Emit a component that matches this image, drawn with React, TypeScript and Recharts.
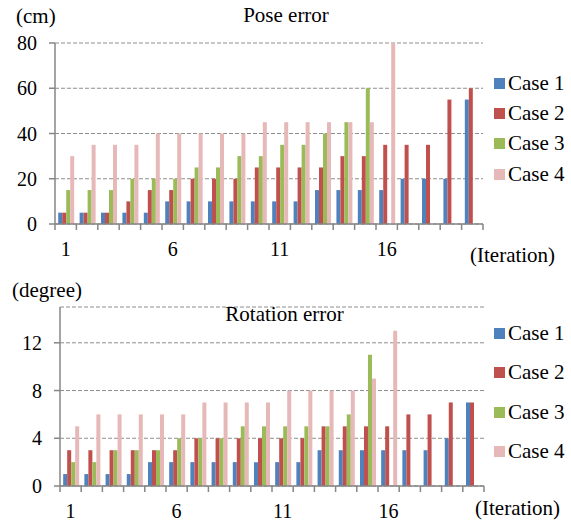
import { Bar, BarChart, CartesianGrid, Legend, XAxis, YAxis } from 'recharts';

const iterations = Array.from({ length: 20 }, (_, i) => String(i + 1));
const labelledIterations = ['1', '6', '11', '16'];

const poseCase1 = [5, 5, 5, 5, 5, 10, 10, 10, 10, 10, 10, 10, 15, 15, 15, 15, 20, 20, 20, 55];
const poseCase2 = [5, 5, 5, 10, 15, 15, 20, 20, 20, 25, 25, 25, 25, 30, 30, 35, 35, 35, 55, 60];
const poseCase3 = [15, 15, 15, 20, 20, 20, 25, 25, 30, 30, 35, 35, 40, 45, 60, null, null, null, null, null];
const poseCase4 = [30, 35, 35, 35, 40, 40, 40, 40, 40, 45, 45, 45, 45, 45, 45, 80, null, null, null, null];
const poseTicks = [0, 20, 40, 60, 80];

const rotCase1 = [1, 1, 1, 1, 2, 2, 2, 2, 2, 2, 2, 2, 3, 3, 3, 3, 3, 3, 4, 7];
const rotCase2 = [3, 3, 3, 3, 3, 3, 4, 4, 4, 4, 4, 4, 5, 5, 5, 5, 6, 6, 7, 7];
const rotCase3 = [2, 2, 3, 3, 3, 4, 4, 4, 5, 5, 5, 5, 5, 6, 11, null, null, null, null, null];
const rotCase4 = [5, 6, 6, 6, 6, 6, 7, 7, 7, 7, 8, 8, 8, 8, 9, 13, null, null, null, null];
const rotTicks = [0, 4, 8, 12];

const cases = ['Case 1', 'Case 2', 'Case 3', 'Case 4'];
const colors = ['#4F81BD', '#C0504D', '#9BBB59', '#E6B9B8'];

const FONT = '"Liberation Serif", serif';
const AXIS = '#868686';
const W = 571;

const buildRows = (series: (number | null)[][]) =>
  iterations.map((it, i) => {
    const row: Record<string, string | number | null> = { it };
    cases.forEach((c, k) => {
      row[c] = series[k][i];
    });
    return row;
  });

const poseData = buildRows([poseCase1, poseCase2, poseCase3, poseCase4]);
const rotData = buildRows([rotCase1, rotCase2, rotCase3, rotCase4]);

// Excel-style category axis: tick marks between the groups, a label every 5th
function makeTick(bandWidth: number, count: number) {
  return (props: any) => {
    const { x, y, payload, index } = props;
    const half = bandWidth / 2;
    return (
      <g>
        <line x1={x - half} x2={x - half} y1={y} y2={y + 6} stroke={AXIS} strokeWidth={1.5} />
        {index === count - 1 && (
          <line x1={x + half} x2={x + half} y1={y} y2={y + 6} stroke={AXIS} strokeWidth={1.5} />
        )}
        {labelledIterations.includes(payload.value) && (
          <text
            x={x}
            y={y + 25}
            textAnchor="middle"
            dominantBaseline="central"
            style={{ fontFamily: FONT, fontSize: 20 }}
            fill="#000"
          >
            {payload.value}
          </text>
        )}
      </g>
    );
  };
}

function makeLegend(rowHeight: number) {
  return () => (
    <div style={{ fontFamily: FONT, fontSize: 21 }}>
      {cases.map((c, i) => (
        <div key={c} style={{ height: rowHeight, display: 'flex', alignItems: 'center' }}>
          <span
            style={{ width: 11, height: 11, background: colors[i], marginRight: 3, display: 'inline-block' }}
          />
          <span style={{ lineHeight: 1 }}>{c}</span>
        </div>
      ))}
    </div>
  );
}

const textStyle = (left: number, top: number, center = false): React.CSSProperties => ({
  position: 'absolute',
  left,
  top,
  transform: center ? 'translate(-50%, -50%)' : 'translateY(-50%)',
  fontFamily: FONT,
  fontSize: 21,
  lineHeight: 1,
  whiteSpace: 'nowrap',
  color: '#000',
});

interface PanelProps {
  data: Record<string, string | number | null>[];
  height: number;
  top: number;
  left: number;
  right: number;
  xAxisHeight: number;
  domain: [number, number];
  ticks: number[];
  legendTop: number;
  legendRow: number;
}

function Panel(p: PanelProps) {
  const bandWidth = (W - p.left - p.right) / iterations.length;
  return (
    <BarChart
      width={W}
      height={p.height}
      data={p.data}
      margin={{ top: p.top, right: p.right, left: 0, bottom: 0 }}
      barCategoryGap="15%"
      barGap={0}
      style={{ fontFamily: FONT }}
    >
      <CartesianGrid vertical={false} stroke="#8e8e8e" strokeDasharray="4 2" />
      <XAxis
        dataKey="it"
        height={p.xAxisHeight}
        interval={0}
        axisLine={{ stroke: AXIS, strokeWidth: 1.5 }}
        tickLine={false}
        tickSize={0}
        tickMargin={0}
        tick={makeTick(bandWidth, iterations.length)}
      />
      <YAxis
        width={p.left}
        domain={p.domain}
        ticks={p.ticks}
        allowDataOverflow
        axisLine={{ stroke: AXIS, strokeWidth: 1.5 }}
        tickLine={{ stroke: AXIS, strokeWidth: 1.5 }}
        tickSize={6}
        tickMargin={12}
        tick={{ fontSize: 20, fill: '#000', style: { fontFamily: FONT } }}
      />
      <Legend
        layout="vertical"
        align="center"
        verticalAlign="middle"
        content={makeLegend(p.legendRow)}
        wrapperStyle={{ left: 494, top: p.legendTop, width: 77 }}
      />
      {cases.map((c, i) => (
        <Bar key={c} dataKey={c} fill={colors[i]} isAnimationActive={false} />
      ))}
    </BarChart>
  );
}

export default function App() {
  return (
    <div style={{ position: 'absolute', left: 0, top: 0, width: W, height: 521, background: '#fff', fontFamily: FONT }}>
      <div style={{ position: 'absolute', left: 0, top: 0, width: W, height: 265 }}>
        <Panel
          data={poseData}
          height={265}
          top={43}
          left={55}
          right={88}
          xAxisHeight={41}
          domain={[0, 80]}
          ticks={poseTicks}
          legendTop={68}
          legendRow={30.3}
        />
        <div style={textStyle(16, 16)}>(cm)</div>
        <div style={textStyle(286, 15, true)}>Pose error</div>
        <div style={textStyle(470, 255)}>(Iteration)</div>
      </div>
      <div style={{ position: 'absolute', left: 0, top: 265, width: W, height: 256 }}>
        <Panel
          data={rotData}
          height={256}
          top={42}
          left={60}
          right={87}
          xAxisHeight={35}
          domain={[0, 15]}
          ticks={rotTicks}
          legendTop={48.5}
          legendRow={39.5}
        />
        <div style={textStyle(12, 25)}>(degree)</div>
        <div style={textStyle(284.5, 49, true)}>Rotation error</div>
        <div style={textStyle(475, 242.5)}>(Iteration)</div>
      </div>
    </div>
  );
}
